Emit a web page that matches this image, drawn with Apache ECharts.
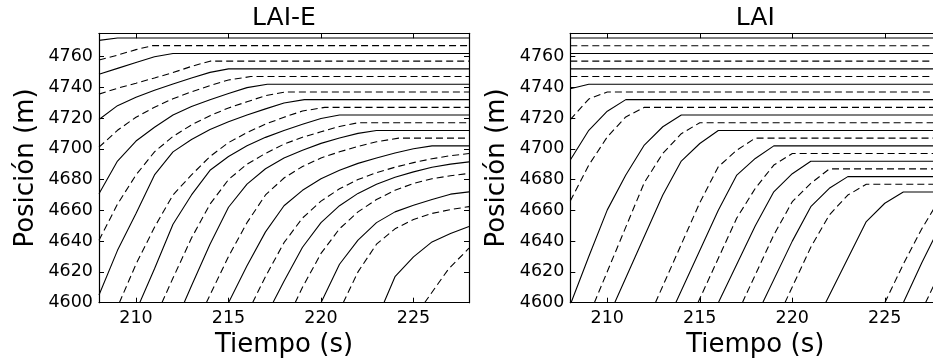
<!DOCTYPE html>
<html>
<head>
<meta charset="utf-8">
<script src="https://cdn.jsdelivr.net/npm/echarts@6/dist/echarts.min.js"></script>
<style>
  html, body { margin: 0; padding: 0; background: #fff; }
  #chart { width: 933px; height: 362px; }
</style>
</head>
<body>
<div id="chart"></div>
<script>
// Tick values shared by both panels
const timeTicks = [210, 215, 220, 225];
const posTicks = [4600, 4620, 4640, 4660, 4680, 4700, 4720, 4740, 4760];
const panelTitles = ['LAI-E', 'LAI'];

// Vehicle trajectories [time (s), position (m)], front vehicle first.
// Even index -> solid line, odd index -> dashed line.
const laiETracks = [
  [[208,4770.4],[209,4771.9],[228,4771.9]],
  [[208,4757.6],[209,4760.8],[210,4764.4],[210.9,4767],[228,4767]],
  [[208,4748.4],[209,4752.2],[210,4756],[211,4759.8],[212,4761.9],[228,4761.9]],
  [[208,4735.5],[209,4739.3],[210,4742.6],[211,4746],[212,4749.5],[213,4753.5],[214,4756.9],[228,4756.9]],
  [[208,4719],[209,4728],[210,4733.4],[211,4738],[212,4742.1],[213,4746],[214,4749.6],[215,4751.9],[228,4751.9]],
  [[208,4701],[209,4712],[210,4720.5],[211,4727],[212,4732.5],[213,4737],[214,4741],[215,4744.7],[216.2,4746.9],[228,4746.9]],
  [[208,4670.8],[209,4692],[210,4705],[211,4714],[212,4721.9],[213,4727.4],[214,4731.9],[215,4735.9],[216,4739.7],[217.1,4741.9],[228,4741.9]],
  [[208,4640.6],[209,4664],[210,4683],[211,4698],[212,4708],[213,4715.5],[214,4721.5],[215,4726.5],[216,4730.5],[217,4734.5],[218.1,4736.9],[228,4736.9]],
  [[208,4605],[209,4634],[210,4658],[211,4683],[212,4698],[213,4706],[214,4712.5],[215,4717.5],[216,4721.9],[217,4725.9],[218,4729.7],[219.1,4731.9],[228,4731.9]],
  [[209.1,4600],[210,4625],[211,4649],[212,4670],[213,4683],[214,4695],[215,4704],[216,4710.5],[217,4716],[218,4720.5],[219,4724.5],[220.2,4726.9],[228,4726.9]],
  [[210.2,4600],[211,4622],[212,4651],[213,4670],[214,4686],[215,4695],[216,4702],[217,4707.4],[218,4711.9],[219,4715.9],[220,4719.7],[221,4721.9],[228,4721.9]],
  [[211.4,4600],[212,4616],[213,4642],[214,4664],[215,4680],[216,4690],[217,4697],[218,4703],[219,4707.5],[220,4711],[221,4714.5],[222,4716.9],[228,4716.9]],
  [[212.6,4600],[213,4611],[214,4638],[215,4662],[216,4677],[217,4687],[218,4694],[219,4699],[220,4703.5],[221,4707],[222,4710],[223,4711.9],[228,4711.9]],
  [[213.8,4600],[214,4605],[215,4630],[216,4652],[217,4670],[218,4681],[219,4688.5],[220,4694],[221,4698],[222,4701.5],[223,4704.5],[224.2,4706.9],[228,4706.9]],
  [[215,4600],[216,4624],[217,4646],[218,4663],[219,4673],[220,4680.5],[221,4686],[222,4690.5],[223,4694],[224,4697.3],[225,4700],[226,4701.9],[228,4701.9]],
  [[216.3,4600],[217,4617],[218,4639],[219,4655],[220,4666],[221,4674],[222,4680],[223,4684.5],[224,4688],[225,4691],[226,4693.5],[227,4695.5],[228,4696.9]],
  [[217.4,4600],[218,4614],[219,4636],[220,4652],[221,4663],[222,4671],[223,4677],[224,4681.5],[225,4685],[226,4688],[227,4690],[228,4691.5]],
  [[218.6,4600],[219,4610],[220,4632],[221,4648],[222,4659],[223,4667],[224,4673],[225,4677.5],[226,4680.5],[227,4682.5],[228,4684]],
  [[220,4600],[221,4625],[222,4640.6],[223,4652],[224,4659],[225,4663.3],[226,4667],[227,4670.5],[228,4672]],
  [[221.2,4600],[222,4620],[223,4638],[224,4648],[225,4654],[226,4658],[227,4660.5],[228,4662.4]],
  [[223.4,4600],[224,4616.9],[225,4629.8],[226,4639.5],[227,4645],[228,4649.5]],
  [[225.6,4600],[226.9,4622],[228,4635.4]]
];

const laiTracks = [
  [[208,4771.9],[228,4771.9]],
  [[208,4766.9],[228,4766.9]],
  [[208,4761.9],[228,4761.9]],
  [[208,4756.9],[228,4756.9]],
  [[208,4751.9],[228,4751.9]],
  [[208,4746.9],[228,4746.9]],
  [[208,4739],[209,4741.9],[228,4741.9]],
  [[208,4719],[209,4732.3],[210,4736.9],[228,4736.9]],
  [[208,4692.7],[209,4712],[210,4724.4],[211,4731.9],[228,4731.9]],
  [[208,4666],[209,4689.4],[210,4707.7],[211,4720.7],[212,4726.9],[228,4726.9]],
  [[208.04,4600],[209,4630],[210,4660.3],[211,4682.9],[212,4702.4],[213,4714.3],[214,4721.9],[228,4721.9]],
  [[209.3,4600],[212,4678],[213,4697],[214,4709.8],[215,4716.9],[228,4716.9]],
  [[210.4,4600],[213,4670],[214,4692],[215,4703.4],[216,4711.9],[228,4711.9]],
  [[212.6,4600],[215,4665],[216,4688.3],[217,4699.1],[218,4706.9],[228,4706.9]],
  [[213.7,4600],[216,4660],[217,4682.9],[218,4693.7],[219,4701.9],[228,4701.9]],
  [[214.9,4600],[217,4655],[218,4674.3],[219,4689.4],[220,4696.9],[228,4696.9]],
  [[216,4600],[218,4650],[219,4672],[220,4683.8],[221,4691.9],[228,4691.9]],
  [[217.3,4600],[219,4644],[220,4665.6],[221,4677.5],[222,4686.9],[228,4686.9]],
  [[218.4,4600],[220,4640],[221,4662.4],[222,4674.3],[223,4681.9],[228,4681.9]],
  [[219.6,4600],[221,4636],[222,4657],[223,4669.9],[224,4676.9],[228,4676.9]],
  [[221.8,4600],[224,4652.7],[225,4664.6],[226,4671.9],[228,4671.9]],
  [[225,4600],[226,4625],[227,4648],[228,4668]],
  [[226,4600],[227,4626],[228,4650]],
  [[227.2,4600],[228,4620]]
];

const FONT = 'DejaVu Sans';
const panels = [
  { left: 99, tracks: laiETracks },
  { left: 570.3, tracks: laiTracks }
];
const gridTop = 33.3, gridHeight = 269.4, gridWidth = 370;

const grids = [], xAxes = [], yAxes = [], series = [], graphics = [];
panels.forEach((p, i) => {
  grids.push({ left: p.left, top: gridTop, width: gridWidth, height: gridHeight, outerBoundsMode: 'none', containLabel: false });
  const tickStyle = { show: true, inside: true, length: 5, lineStyle: { color: '#000', width: 1 } };
  const lineStyle = { show: true, onZero: false, lineStyle: { color: '#000', width: 1.2 } };
  // bottom + top time axes
  xAxes.push({
    type: 'value', gridIndex: i, position: 'bottom', min: 208, max: 228,
    axisLine: lineStyle,
    axisTick: Object.assign({ customValues: timeTicks }, tickStyle),
    axisLabel: { customValues: timeTicks, formatter: v => String(v), color: '#000', fontFamily: FONT, fontSize: 17.5, margin: 7 },
    splitLine: { show: false },
    name: 'Tiempo (s)', nameLocation: 'middle', nameGap: 30,
    nameTextStyle: { color: '#000', fontFamily: FONT, fontSize: 26 }
  });
  xAxes.push({
    type: 'value', gridIndex: i, position: 'top', min: 208, max: 228,
    axisLine: lineStyle,
    axisTick: Object.assign({ customValues: timeTicks }, tickStyle),
    axisLabel: { show: false }, splitLine: { show: false }
  });
  // left + right position axes
  yAxes.push({
    type: 'value', gridIndex: i, position: 'left', min: 4600, max: 4775,
    axisLine: lineStyle,
    axisTick: Object.assign({ customValues: posTicks }, tickStyle),
    axisLabel: { customValues: posTicks, formatter: v => String(v), color: '#000', fontFamily: FONT, fontSize: 17.5, margin: 6 },
    splitLine: { show: false },
    name: 'Posición (m)', nameLocation: 'middle', nameGap: 60,
    nameTextStyle: { color: '#000', fontFamily: FONT, fontSize: 26 }
  });
  yAxes.push({
    type: 'value', gridIndex: i, position: 'right', min: 4600, max: 4775,
    axisLine: lineStyle,
    axisTick: Object.assign({ customValues: posTicks }, tickStyle),
    axisLabel: { show: false }, splitLine: { show: false }
  });
  p.tracks.forEach((track, k) => {
    series.push({
      type: 'line', xAxisIndex: i * 2, yAxisIndex: i * 2, data: track,
      showSymbol: false, symbol: 'none', clip: true, silent: true,
      lineStyle: { color: '#000', width: 1.1, type: k % 2 === 0 ? 'solid' : [7, 4] }
    });
  });
  graphics.push({
    type: 'text', x: p.left + gridWidth / 2, y: 18,
    style: { text: panelTitles[i], fill: '#000', font: '25px "' + FONT + '"', textAlign: 'center', textVerticalAlign: 'middle' }
  });
});

const chart = echarts.init(document.getElementById('chart'), null, { renderer: 'canvas' });
chart.setOption({
  animation: false,
  backgroundColor: '#fff',
  grid: grids, xAxis: xAxes, yAxis: yAxes, series: series, graphic: graphics
});
</script>
</body>
</html>
